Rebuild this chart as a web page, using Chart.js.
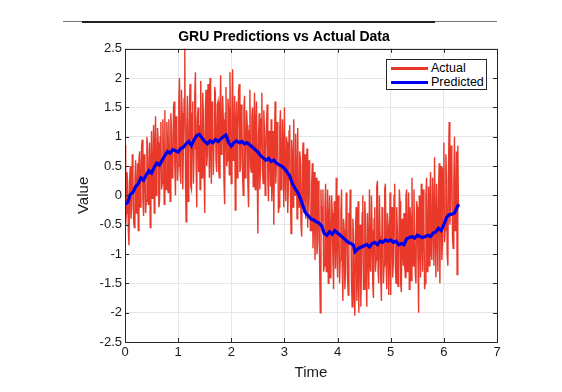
<!DOCTYPE html>
<html>
<head>
<meta charset="utf-8">
<script src="https://cdn.jsdelivr.net/npm/chart.js@4.4.1/dist/chart.umd.min.js"></script>
<style>
  body { margin: 0; background: #fff; }
  #wrap { position: relative; width: 562px; height: 392px; }
  #topline { position: absolute; left: 63px; top: 21px; width: 434px; height: 1px; background: #777; }
  #topline2 { position: absolute; left: 82px; top: 21px; width: 353px; height: 2px; background: #222; }
  #legend { position: absolute; left: 386px; top: 59px; width: 101px; height: 31px; border: 1px solid #262626;
            background: #fff; font-family: "Liberation Sans", Arial, sans-serif; font-size: 12.5px; color: #000; box-sizing: border-box; }
  .item { position: absolute; left: 4px; height: 14px; line-height: 14px; white-space: nowrap; }
  .swatch { display: inline-block; width: 37px; vertical-align: middle; margin-right: 3px; }
</style>
</head>
<body>
<div id="wrap">
  <canvas id="plot" width="562" height="392"></canvas>
  <div id="topline"></div>
  <div id="topline2"></div>
  <div id="legend"></div>
</div>
<script>
// time step of the sampled series
const timeStep = 0.0125;

// actual (noisy) series, one value per time step
const actualValues = [
  0.85,-0.5,-0.3,0.4,0.2,-0.6,-0.85,0.3,0.5,-0.4,-0.2,0.7,0.35,-0.45,-0.55,0.25,0.6,-0.3,0.05,0.55,
  -0.6,0.6,0.75,-0.2,0.1,0.85,0.95,-0.1,-0.35,0.7,0.55,-0.3,-0.1,1.0,0.8,-0.15,0.2,0.9,-0.55,0.45,
  1.1,-0.05,0.3,1.2,-0.3,0.8,1.35,0.0,0.45,1.15,0.9,-0.2,-0.1,1.0,1.25,0.1,0.2,1.3,0.75,-0.15,
  1.45,0.2,0.1,1.25,0.9,0.05,1.3,0.6,-0.1,1.4,1.1,0.3,0.4,1.5,1.6,0.5,0.0,1.35,1.2,0.25,
  0.5,1.55,2.0,0.4,0.2,1.8,1.4,0.1,0.9,1.65,2.55,0.3,-0.45,1.2,1.7,-0.1,0.6,1.5,1.9,0.15,
  0.1,1.4,1.6,0.2,0.8,1.7,2.1,0.6,-0.2,1.3,1.5,0.4,1.2,0.1,1.95,0.9,0.3,1.75,1.35,0.5,
  -0.3,1.45,1.8,0.5,0.7,1.9,1.2,0.3,2.0,0.8,0.2,1.6,1.5,0.35,0.9,1.85,1.75,0.6,0.4,1.55,
  1.6,0.45,0.3,1.5,2.05,0.7,0.9,1.7,1.3,0.25,-0.15,1.4,1.85,0.5,0.6,1.65,1.45,0.35,2.1,0.8,
  0.2,1.4,2.15,0.6,0.8,1.7,-0.25,1.2,1.6,0.3,1.1,1.8,1.9,0.4,0.5,1.55,1.3,0.35,0.0,1.5,
  1.7,0.3,0.7,1.45,1.2,0.2,-0.2,1.1,1.8,0.5,0.4,1.35,1.5,0.15,1.0,1.75,0.1,1.2,1.6,0.45,
  -0.65,1.0,1.4,0.1,0.5,1.3,1.75,0.4,0.2,1.45,1.1,0.0,0.8,1.2,1.55,0.3,-0.1,1.1,0.9,0.15,
  1.3,-0.1,0.3,1.1,-0.5,0.9,1.6,0.2,0.6,1.25,1.0,-0.3,-0.2,1.15,1.45,0.1,0.4,1.3,0.8,-0.2,
  1.5,0.3,-0.1,1.0,0.9,-0.3,0.2,1.1,1.2,0.1,-0.65,0.95,0.7,-0.2,1.3,0.2,0.0,1.05,0.5,-0.4,
  1.15,0.0,-0.2,0.75,0.6,-0.5,-0.7,0.5,0.9,-0.3,0.1,0.7,-0.4,0.4,0.8,-0.55,-0.1,0.6,0.35,-0.6,
  -0.6,0.2,0.55,-0.9,-0.3,0.4,-1.1,0.0,0.3,-1.0,-0.8,0.25,-0.1,-1.2,-2.0,0.1,-0.5,-0.2,0.1,-1.3,
  -1.2,-0.2,0.2,-1.3,-0.9,0.1,-1.5,-0.4,0.0,-1.4,-1.0,0.0,-0.3,-1.1,-1.6,-0.1,-0.5,-1.25,0.3,-0.8,
  -1.4,0.0,-0.2,-1.5,-1.1,-0.3,0.1,-1.2,-1.8,-0.4,-0.6,-1.6,-1.3,0.05,-0.1,-1.4,-1.7,-0.3,-0.8,0.1,
  -0.3,-1.5,-1.9,-0.4,-0.7,-1.7,-2.05,-0.6,-0.2,-1.8,-1.4,-0.1,-2.0,-0.8,-0.5,-1.9,-1.2,-0.3,0.0,-1.6,
  -1.6,-0.1,-0.4,-1.4,-1.9,-0.3,-0.9,-1.6,0.1,-1.2,-1.3,0.0,-0.6,-1.5,-1.75,-0.4,-0.2,-1.3,-1.1,0.15,
  0.25,-1.3,-1.5,0.0,-0.7,-1.4,-1.8,-0.2,-0.3,-1.5,-1.2,0.1,0.2,-1.1,-1.6,-0.3,-0.5,-1.7,-1.0,0.05,
  -1.7,-0.3,-0.2,-1.4,-1.1,0.0,0.2,-1.2,-1.5,-0.2,-0.6,-1.55,-1.3,0.1,-0.1,-1.5,-1.65,-0.4,-0.9,-1.2,
  -0.3,-1.2,-1.4,0.0,0.1,-1.3,-1.0,0.05,-1.6,-0.2,-0.4,-1.45,0.3,-1.0,-1.2,0.1,-0.7,-1.35,-1.5,-0.1,
  -0.2,-1.1,-2.0,0.0,-0.6,-1.4,0.2,-0.7,-1.3,0.1,-0.4,-1.6,-1.5,0.0,0.3,-1.3,-0.9,0.15,-1.2,-0.1,
  0.4,-1.0,-1.1,0.3,-0.3,-1.2,0.65,-0.6,-1.4,0.2,-0.5,-1.3,0.1,0.55,-1.5,-0.2,0.5,-1.1,-0.8,0.45,
  0.9,-0.8,-0.6,0.7,0.3,-1.0,-1.2,0.5,1.25,-0.5,-0.2,0.85,0.6,-0.7,-0.9,0.2,1.0,-0.6,-0.4,0.75,
  -1.35,0.85,-0.2
];

// predicted series (smooth GRU output)
const predTimes = [
  0.0, 0.05, 0.1, 0.15, 0.2, 0.25, 0.3, 0.35, 0.4, 0.45,
  0.5, 0.55, 0.6, 0.65, 0.7, 0.75, 0.8, 0.85, 0.9, 0.95,
  1.0, 1.05, 1.1, 1.15, 1.2, 1.25, 1.3, 1.35, 1.4, 1.45,
  1.5, 1.55, 1.6, 1.65, 1.7, 1.75, 1.8, 1.85, 1.9, 1.95,
  2.0, 2.05, 2.1, 2.15, 2.2, 2.25, 2.3, 2.35, 2.4, 2.45,
  2.5, 2.55, 2.6, 2.65, 2.7, 2.75, 2.8, 2.85, 2.9, 2.95,
  3.0, 3.05, 3.1, 3.15, 3.2, 3.25, 3.3, 3.35, 3.4, 3.45,
  3.5, 3.55, 3.6, 3.65, 3.7, 3.75, 3.8, 3.85, 3.9, 3.95,
  4.0, 4.05, 4.1, 4.15, 4.2, 4.25, 4.3, 4.33, 4.4, 4.45,
  4.5, 4.55, 4.6, 4.65, 4.7, 4.75, 4.8, 4.85, 4.9, 4.95,
  5.0, 5.05, 5.1, 5.15, 5.2, 5.25, 5.3, 5.35, 5.4, 5.45,
  5.5, 5.55, 5.6, 5.65, 5.7, 5.75, 5.8, 5.85, 5.9, 5.95,
  6.0, 6.05, 6.1, 6.15, 6.2, 6.25, 6.28
];
const predValues = [
  -0.15, -0.12, 0.02, 0.05, 0.15, 0.2, 0.3, 0.26, 0.35, 0.42,
  0.38, 0.48, 0.55, 0.52, 0.6, 0.68, 0.75, 0.72, 0.78, 0.76,
  0.74, 0.8, 0.82, 0.88, 0.92, 0.85, 0.95, 1.02, 1.04, 0.98,
  0.92, 0.88, 0.93, 0.9, 0.95, 0.92, 0.96, 1.0, 1.03, 0.9,
  0.84, 0.9, 0.93, 0.9, 0.92, 0.88, 0.9, 0.86, 0.82, 0.78,
  0.74, 0.68, 0.64, 0.6, 0.63, 0.58, 0.6, 0.55, 0.52, 0.5,
  0.46, 0.4, 0.33, 0.2, 0.12, 0.05, -0.05, -0.18, -0.3, -0.35,
  -0.4, -0.42, -0.45, -0.47, -0.52, -0.65, -0.68, -0.62, -0.66, -0.6,
  -0.64, -0.68, -0.72, -0.76, -0.8, -0.82, -0.85, -0.96, -0.9, -0.88,
  -0.86, -0.84, -0.88, -0.82, -0.8, -0.84, -0.78, -0.8, -0.76, -0.78,
  -0.76, -0.8, -0.78, -0.84, -0.82, -0.84, -0.74, -0.72, -0.7, -0.73,
  -0.68, -0.7, -0.72, -0.7, -0.68, -0.7, -0.64, -0.62, -0.56, -0.6,
  -0.5, -0.38, -0.33, -0.32, -0.3, -0.2, -0.15
];

const yTicks = [-2.5, -2, -1.5, -1, -0.5, 0, 0.5, 1, 1.5, 2, 2.5];
const xTicks = [0, 1, 2, 3, 4, 5, 6, 7];

const seriesNames = ['Actual', 'Predicted'];
const seriesColors = ['#e8392a', '#0000f0'];

const actualPts = actualValues.map((v, i) => ({ x: i * timeStep, y: v }));
const predPts = predValues.map((v, i) => ({ x: predTimes[i], y: v }));

const font = '"Liberation Sans", Arial, sans-serif';
const axisColor = '#262626';

// box + inward tick marks like matlab
const boxPlugin = {
  id: 'box',
  afterDraw(chart) {
    const a = chart.chartArea;
    const ctx = chart.ctx;
    const xs = chart.scales.x, ys = chart.scales.y;
    ctx.save();
    ctx.strokeStyle = axisColor;
    ctx.lineWidth = 1;
    ctx.beginPath();
    xTicks.forEach(t => {
      const px = Math.round(xs.getPixelForValue(t)) + 0.5;
      ctx.moveTo(px, a.bottom); ctx.lineTo(px, a.bottom - 4);
      ctx.moveTo(px, a.top); ctx.lineTo(px, a.top + 4);
    });
    yTicks.forEach(t => {
      const py = Math.round(ys.getPixelForValue(t)) + 0.5;
      ctx.moveTo(a.left, py); ctx.lineTo(a.left + 4, py);
      ctx.moveTo(a.right, py); ctx.lineTo(a.right - 4, py);
    });
    ctx.stroke();
    ctx.strokeRect(Math.round(a.left) + 0.5, Math.round(a.top) + 0.5,
      Math.round(a.right - a.left), Math.round(a.bottom - a.top));
    ctx.restore();
  }
};

new Chart(document.getElementById('plot'), {
  type: 'line',
  data: {
    datasets: [
      { label: seriesNames[0], data: actualPts, borderColor: seriesColors[0], borderWidth: 1.4,
        pointRadius: 0, tension: 0, order: 2 },
      { label: seriesNames[1], data: predPts, borderColor: seriesColors[1], borderWidth: 3.2,
        pointRadius: 0, tension: 0, order: 1 }
    ]
  },
  options: {
    responsive: false,
    animation: false,
    events: [],
    layout: { padding: { left: 71, right: 65, top: 0, bottom: 0 } },
    plugins: {
      legend: { display: false },
      tooltip: { enabled: false },
      title: {
        display: true,
        text: 'GRU Predictions vs Actual Data',
        color: '#000',
        font: { family: font, size: 14, weight: 'bold' },
        padding: { top: 29, bottom: 3 }
      }
    },
    scales: {
      x: {
        type: 'linear', min: 0, max: 7,
        afterBuildTicks: s => { s.ticks = xTicks.map(v => ({ value: v })); },
        ticks: { color: '#1a1a1a', font: { family: font, size: 13 }, padding: 3, maxRotation: 0,
                 callback: v => String(v) },
        grid: { color: '#e6e6e6', drawTicks: false },
        border: { display: false },
        title: { display: true, text: 'Time', color: '#1a1a1a', font: { family: font, size: 15 },
                 padding: { top: 0, bottom: 10 } },
        afterFit: s => { s.height = 50; }
      },
      y: {
        type: 'linear', min: -2.5, max: 2.5,
        afterBuildTicks: s => { s.ticks = yTicks.map(v => ({ value: v })); },
        ticks: { color: '#1a1a1a', font: { family: font, size: 13 }, padding: 3,
                 callback: v => String(v) },
        grid: { color: '#e6e6e6', drawTicks: false },
        border: { display: false },
        title: { display: true, text: 'Value', color: '#1a1a1a', font: { family: font, size: 15 },
                 padding: { top: 4, bottom: 0 } },
        afterFit: s => { s.width = 54; }
      }
    }
  },
  plugins: [boxPlugin]
});

// legend box inside the axes
const legend = document.getElementById('legend');
seriesNames.forEach((name, i) => {
  const item = document.createElement('div');
  item.className = 'item';
  item.style.top = (1 + i * 14) + 'px';
  const sw = document.createElement('span');
  sw.className = 'swatch';
  sw.style.borderTop = '3px solid ' + seriesColors[i];
  item.appendChild(sw);
  item.appendChild(document.createTextNode(name));
  legend.appendChild(item);
});
</script>
</body>
</html>
